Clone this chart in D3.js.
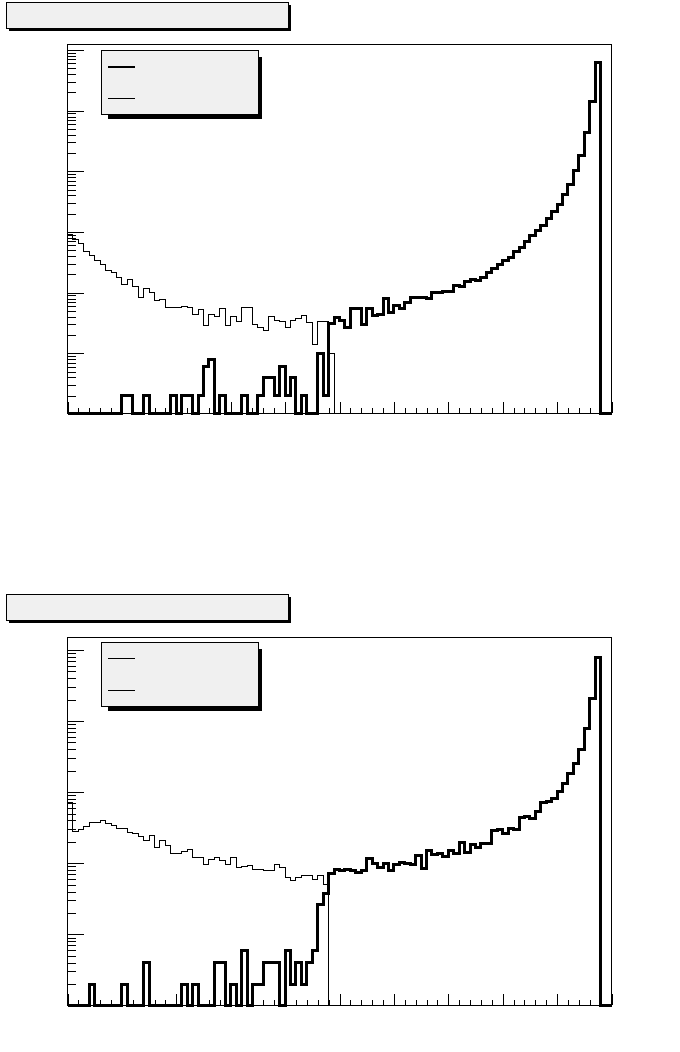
<!DOCTYPE html>
<html>
<head>
<meta charset="utf-8">
<script src="https://cdn.jsdelivr.net/npm/d3@7"></script>
<style>
  html, body { margin: 0; padding: 0; background: #fff; }
  svg { display: block; }
</style>
</head>
<body>
<script>
// ---------------- DATA (100 bins per histogram) ----------------
const nBins = 100;
const binIndex = d3.range(nBins);

// Panel 1 : upper pad
const top_thin = [
  910,752,639,482,409,338,287,231,212,179,
  136,162,126,84,115,99,74,76,58,58,
  58,60,56,44,52,29,44,40,54,29,
  40,34,58,58,30,27,24,41,35,34,
  27,35,37,42,32,14,34,34,10,0,
  0,0,0,0,0,0,0,0,0,0,
  0,0,0,0,0,0,0,0,0,0,
  0,0,0,0,0,0,0,0,0,0,
  0,0,0,0,0,0,0,0,0,0,
  0,0,0,0,0,0,0,0,0,0
];
const top_thick = [
  0,0,0,0,0,0,0,0,0,0,
  2,2,0,0,2,0,0,0,0,2,
  0,2,2,0,2,6,8,0,2,0,
  0,0,2,0,0,2,4,4,2,6,
  2,4,0,2,0,0,10,2,31,39,
  35,27,55,55,30,55,42,43,79,47,
  61,54,69,84,84,84,80,99,99,105,
  105,133,125,155,163,158,179,212,251,294,
  335,386,479,562,702,865,1046,1266,1696,2213,
  2890,4092,6108,10140,18520,42860,141300,611000,0,0
];

// Panel 2 : lower pad
const bottom_thin = [
  705,284,297,324,373,373,393,361,339,307,
  307,270,261,234,210,245,166,206,175,139,
  139,144,155,120,120,97,112,122,110,97,
  120,87,91,92,81,81,79,78,96,88,
  63,57,63,68,68,59,68,50,0,0,
  0,0,0,0,0,0,0,0,0,0,
  0,0,0,0,0,0,0,0,0,0,
  0,0,0,0,0,0,0,0,0,0,
  0,0,0,0,0,0,0,0,0,0,
  0,0,0,0,0,0,0,0,0,0
];
const bottom_thick = [
  0,0,0,0,2,0,0,0,0,0,
  2,0,0,0,4,0,0,0,0,0,
  0,2,0,2,0,0,0,4,4,0,
  2,0,6,0,2,2,4,4,4,0,
  6,2,4,2,4,6,26,38,71,81,
  80,81,78,74,80,115,99,88,99,78,
  96,102,99,96,127,85,150,132,135,126,
  150,135,193,143,181,168,187,187,288,297,
  258,313,303,443,457,420,538,705,728,802,
  1029,1334,1845,2494,3924,7925,20970,77400,0,0
];

// Axis tick values
const xMajorTicks = d3.range(0, 101, 10);
const xMinorTicks = d3.range(0, 101, 2).filter(v => v % 10 !== 0);

// ---------------- LAYOUT ----------------
const W = 680, H = 1052;
const svg = d3.select("body").append("svg")
  .attr("width", W).attr("height", H)
  .attr("viewBox", `0 0 ${W} ${H}`);
svg.append("rect").attr("width", W).attr("height", H).attr("fill", "#fff");

const panels = [
  { thin: top_thin, thick: top_thick, legendThickFirst: true,
    frameTop: 44.5, frameBottom: 413.5, zeroPx: 414, decadePx: 60.667,
    titleY: 2.5, legendY: 50.5, legendLineY: [67, 98.5] },
  { thin: bottom_thin, thick: bottom_thick, legendThickFirst: false,
    frameTop: 637.5, frameBottom: 1005.5, zeroPx: 1005.4, decadePx: 71.08,
    titleY: 594.5, legendY: 642.5, legendLineY: [658.5, 690.5] }
];

const frameLeft = 67.5, frameRight = 611.5;

panels.forEach(p => {
  const g = svg.append("g").attr("shape-rendering", "crispEdges");

  // title box with shadow
  g.append("rect").attr("x", 9).attr("y", p.titleY + 2.5).attr("width", 281.5).attr("height", 25.5).attr("fill", "#000");
  g.append("rect").attr("x", 6.5).attr("y", p.titleY).attr("width", 282).attr("height", 26)
    .attr("fill", "#f0f0f0").attr("stroke", "#000").attr("stroke-width", 1);

  // scales
  const x = d3.scaleLinear().domain([0, nBins]).range([frameLeft, frameRight]);
  const yMin = Math.pow(10, (p.zeroPx - p.frameBottom) / p.decadePx);
  const yMax = Math.pow(10, (p.zeroPx - p.frameTop) / p.decadePx);
  const y = d3.scaleLog().domain([yMin, yMax]).range([p.frameBottom, p.frameTop]);
  const yv = v => (v <= yMin ? p.frameBottom : y(v));

  // frame
  g.append("rect").attr("x", frameLeft).attr("y", p.frameTop)
    .attr("width", frameRight - frameLeft).attr("height", p.frameBottom - p.frameTop)
    .attr("fill", "#fff").attr("stroke", "#000").attr("stroke-width", 1);

  // y axis (log): majors at decades, minors at 2..9
  const lo = Math.floor(Math.log10(yMin)), hi = Math.ceil(Math.log10(yMax));
  const yMajor = [], yMinor = [];
  for (let k = lo; k <= hi; k++) {
    const d = Math.pow(10, k);
    if (d >= yMin && d <= yMax) yMajor.push(d);
    for (let m = 2; m <= 9; m++) { const v = m * d; if (v >= yMin && v <= yMax) yMinor.push(v); }
  }
  const yAxMaj = g.append("g").attr("transform", `translate(${frameLeft - 0.5},0)`)
    .call(d3.axisRight(y).tickValues(yMajor).tickSize(16.5).tickFormat(""));
  const yAxMin = g.append("g").attr("transform", `translate(${frameLeft - 0.5},0)`)
    .call(d3.axisRight(y).tickValues(yMinor).tickSize(8.5).tickFormat(""));

  // x axis
  const xAxMaj = g.append("g").attr("transform", `translate(0,${p.frameBottom - 0.5})`)
    .call(d3.axisTop(x).tickValues(xMajorTicks).tickSize(11.5).tickFormat(""));
  const xAxMin = g.append("g").attr("transform", `translate(0,${p.frameBottom - 0.5})`)
    .call(d3.axisTop(x).tickValues(xMinorTicks).tickSize(5.5).tickFormat(""));
  [yAxMaj, yAxMin, xAxMaj, xAxMin].forEach(a => {
    a.select(".domain").remove();
    a.selectAll("line").attr("stroke", "#000").attr("stroke-width", 1);
  });

  // histogram step lines
  const step = d3.line().x(d => d[0]).y(d => d[1]).curve(d3.curveStepAfter);
  const histPts = vals => {
    const pts = [[x(0), p.frameBottom]];
    binIndex.forEach(i => pts.push([x(i), yv(vals[i])]));
    pts.push([x(nBins), yv(vals[nBins - 1])]);
    pts.push([x(nBins), p.frameBottom]);
    return pts;
  };
  g.append("path").attr("d", step(histPts(p.thin)))
    .attr("fill", "none").attr("stroke", "#000").attr("stroke-width", 1);
  g.append("path").attr("d", step(histPts(p.thick)))
    .attr("fill", "none").attr("stroke", "#000").attr("stroke-width", 3)
    .attr("stroke-linejoin", "miter");

  // legend with shadow
  g.append("rect").attr("x", 108).attr("y", p.legendY + 6.5).attr("width", 154).attr("height", 62).attr("fill", "#000");
  g.append("rect").attr("x", 101.5).attr("y", p.legendY).attr("width", 157).attr("height", 64)
    .attr("fill", "#f0f0f0").attr("stroke", "#000").attr("stroke-width", 1);
  p.legendLineY.forEach((ly, i) => {
    const w = (i === 0 && p.legendThickFirst) ? 2.5 : 1;
    g.append("line").attr("x1", 108).attr("x2", 135).attr("y1", ly).attr("y2", ly)
      .attr("stroke", "#000").attr("stroke-width", w);
  });
});
</script>
</body>
</html>
